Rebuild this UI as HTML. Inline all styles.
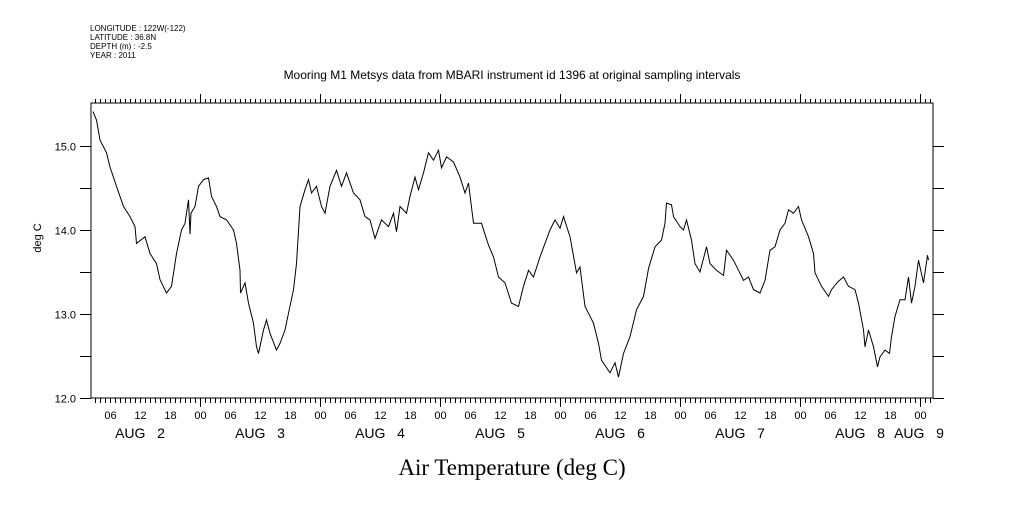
<!DOCTYPE html>
<html><head><meta charset="utf-8"><style>
body{margin:0;background:#fff;width:1009px;height:504px;overflow:hidden}
svg text{font-family:"Liberation Sans",sans-serif;fill:#000;white-space:pre}
</style></head><body>
<svg id="chart" width="1009" height="504" xmlns="http://www.w3.org/2000/svg">
<g font-size="8">
<text x="90" y="31">LONGITUDE : 122W(-122)</text>
<text x="90" y="40">LATITUDE : 36.8N</text>
<text x="90" y="49">DEPTH (m) : -2.5</text>
<text x="90" y="58">YEAR : 2011</text>
</g>
<text x="512" y="79" font-size="12" text-anchor="middle">Mooring M1 Metsys data from MBARI instrument id 1396 at original sampling intervals</text>
<text x="0" y="0" font-size="11" text-anchor="middle" transform="translate(41,238) rotate(-90)">deg C</text>
<text x="512" y="475" font-size="23" text-anchor="middle" style="font-family:'Liberation Serif',serif">Air Temperature (deg C)</text>
<rect x="91" y="103" width="842" height="295" fill="none" stroke="#000" stroke-width="1"/>
<g id="axes"></g>
<polyline id="series" fill="none" stroke="#000" stroke-width="1"/>
</svg>
<script>
// time in hours from AUG 2 00:00, temperatures in deg C
const hours=[2.6,3.3,4.0,5.3,6.0,7.3,8.7,10.0,11.0,11.3,13.0,14.0,15.3,16.0,17.3,18.3,19.3,20.3,21.0,21.7,22.0,22.2,23.0,23.7,24.7,25.7,26.3,27.3,28.0,29.3,30.7,31.3,32.0,32.1,33.0,33.7,34.7,35.3,35.7,36.7,37.3,38.0,39.3,40.0,41.0,41.7,42.7,43.3,44.0,45.0,45.7,46.3,47.3,48.3,49.0,50.0,51.3,52.3,53.3,54.7,56.0,57.0,58.0,59.0,60.3,61.7,62.7,63.3,64.0,65.3,66.0,67.0,67.7,68.7,69.7,70.7,71.7,72.3,73.3,74.7,76.0,77.0,77.7,78.7,80.3,81.7,82.7,83.7,85.0,86.3,87.7,88.7,89.7,90.7,92.0,93.0,94.0,95.0,96.0,96.7,98.0,99.3,100.0,101.0,102.7,103.7,104.3,106.0,107.0,107.7,108.7,110.0,111.3,112.7,113.7,115.0,116.3,117.0,117.3,118.3,118.7,120.0,120.7,121.3,122.3,123.0,124.0,125.3,126.0,127.3,128.7,129.3,130.7,131.7,132.7,133.7,134.7,136.0,137.0,138.0,139.0,140.0,141.0,141.7,142.7,143.7,144.3,145.7,146.7,147.0,148.3,149.7,150.3,151.7,152.7,153.7,155.0,155.7,156.7,157.0,157.7,158.7,159.5,160.0,161.0,161.9,162.3,163.0,164.0,165.0,165.7,166.3,167.0,167.7,168.7,169.5,169.7];
const temps=[15.41,15.31,15.07,14.92,14.75,14.52,14.28,14.16,14.04,13.84,13.92,13.72,13.6,13.41,13.25,13.33,13.72,14.0,14.08,14.36,13.95,14.2,14.28,14.52,14.6,14.62,14.4,14.28,14.16,14.12,14.0,13.84,13.52,13.25,13.37,13.13,12.89,12.61,12.53,12.81,12.93,12.77,12.57,12.65,12.81,13.01,13.29,13.6,14.28,14.48,14.6,14.44,14.52,14.28,14.2,14.52,14.71,14.52,14.68,14.44,14.36,14.16,14.12,13.9,14.12,14.04,14.2,13.98,14.28,14.2,14.4,14.63,14.48,14.68,14.92,14.83,14.95,14.74,14.87,14.81,14.63,14.44,14.56,14.08,14.08,13.82,13.68,13.44,13.37,13.13,13.09,13.33,13.52,13.44,13.68,13.84,14.0,14.12,14.02,14.16,13.92,13.49,13.56,13.09,12.89,12.65,12.45,12.3,12.42,12.25,12.53,12.73,13.05,13.21,13.54,13.8,13.88,14.08,14.32,14.3,14.16,14.04,14.0,14.12,13.88,13.6,13.5,13.8,13.6,13.52,13.46,13.76,13.64,13.52,13.4,13.44,13.29,13.25,13.4,13.76,13.8,14.0,14.08,14.24,14.2,14.28,14.12,13.92,13.72,13.49,13.33,13.21,13.29,13.39,13.44,13.33,13.29,13.13,12.81,12.61,12.81,12.61,12.37,12.49,12.57,12.53,12.73,12.97,13.17,13.17,13.44,13.13,13.33,13.64,13.37,13.7,13.64];
const yTicks=[12.0,12.5,13.0,13.5,14.0,14.5,15.0];
const yTickLabels=["12.0","","13.0","","14.0","","15.0"];
const hourLabels=["06","12","18","00"];
const dayLabels=["AUG   2","AUG   3","AUG   4","AUG   5","AUG   6","AUG   7","AUG   8","AUG   9"];
const X0=91,X1=933,Y0=398,Y1=103;
const xs=h=>80+5*h;           // 5 px per hour, AUG 2 00:00 at x=80
const ys=v=>398-(v-12)*84;    // 84 px per degree
const NS="http://www.w3.org/2000/svg";
const g=document.getElementById('axes');
function ln(x1,y1,x2,y2,name){const l=document.createElementNS(NS,'line');l.setAttribute('x1',x1);l.setAttribute('y1',y1);l.setAttribute('x2',x2);l.setAttribute('y2',y2);l.setAttribute('stroke','#000');


g.appendChild(l);}
function tx(x,y,s,size,anchor,name){const t=document.createElementNS(NS,'text');t.setAttribute('x',x);t.setAttribute('y',y);t.setAttribute('font-size',size);t.setAttribute('text-anchor',anchor);t.textContent=s;


g.appendChild(t);}
yTicks.forEach((v,i)=>{const y=Math.round(ys(v))+0.5;ln(80,y,X0,y,'y-tick');ln(X1,y,944,y,'y-tick-right');
if(yTickLabels[i])tx(76,y+4,yTickLabels[i],11,'end','y-tick-label');});
for(let h=0;h<=171;h++){const x=Math.round(xs(h))+0.5;if(x<X0||x>X1)continue;const maj=h%24===0;
ln(x,Y0,x,Y0+(maj?9:5),'x-tick');ln(x,Y1,x,Y1-(maj?9:4),'x-tick-top');
if(h%6===0)tx(x,419,hourLabels[(h/6+3)%4],11,'middle','x-hour-label');}
dayLabels.forEach((d,i)=>{const x=i<7?xs(24*i+12):xs(24*i+12)-61;tx(x,438,d,14,'middle','x-day-label');});
document.getElementById('series').setAttribute('points',hours.map((h,i)=>xs(h).toFixed(1)+','+ys(temps[i]).toFixed(1)).join(' '));
</script>
</body></html>
